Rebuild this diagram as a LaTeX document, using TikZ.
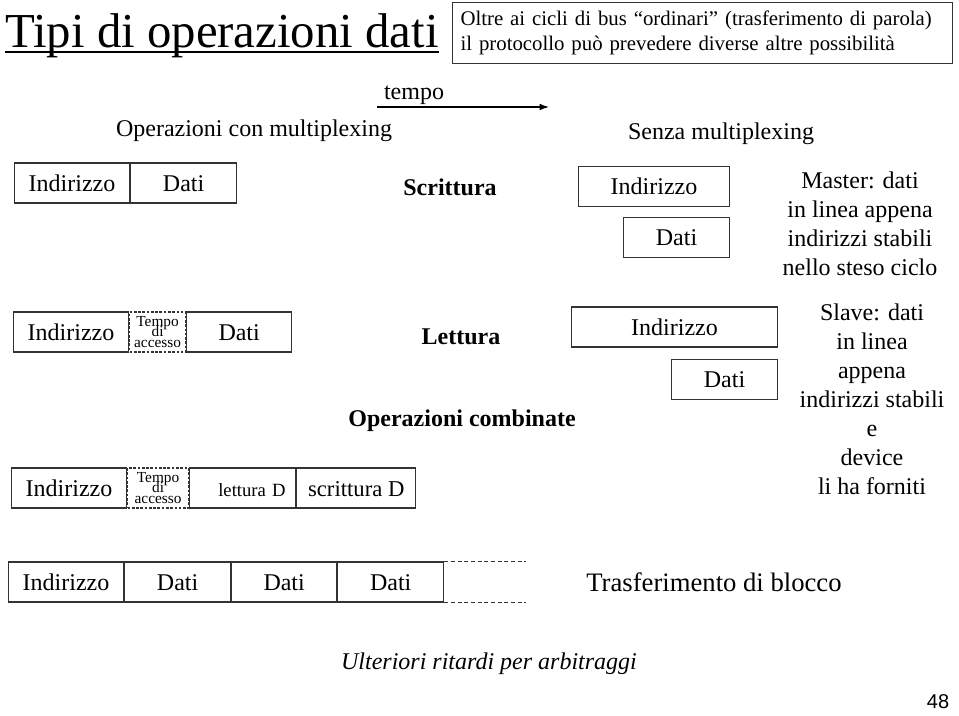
\documentclass[tikz,border=0pt]{standalone}
\usepackage{fontspec}
\setmainfont{Liberation Serif}
\newfontfamily\pagfont{Liberation Sans}
\usetikzlibrary{positioning,arrows.meta}
\tikzset{
campo/.style={
	  draw=black!80, line width=0.8pt, minimum height=30pt,
	    inner sep=0pt, text height=12pt, text depth=0pt,
	    font=\fontsize{18}{21}\selectfont},
attesa/.style={draw=black!80, line width=0.8pt, minimum height=30pt, inner sep=0pt,
	    dash pattern=on 2pt off 1.2pt, align=center,
	    font={\fontsize{11.5}{8}\selectfont\lineskiplimit=-20pt}},
tipo/.style={font=\fontsize{18}{21}\selectfont\bfseries},
testo/.style={font=\fontsize{18}{21.75}\selectfont, align=center}
}

\begin{document}
\begin{tikzpicture}[x=0.75pt, y=-0.75pt]
	\useasboundingbox (0,0) rectangle (959,715);
	\node[anchor=base west, inner sep=0pt, font=\fontsize{36.6}{42}\selectfont] (titolo) at (5,47) {Tipi di operazioni dati};
	\draw[line width=1.2pt] ([yshift=-3.75pt]titolo.base west) -- ([yshift=-3.75pt]titolo.base east);
	\node[draw=black!80, line width=0.8pt, anchor=north west, text width=363pt, inner xsep=6pt,
		minimum height=45.75pt, align=left, font=\fontsize{15.6}{18.5}\selectfont] (oltre) at (452,2)
		{Oltre ai cicli di bus “ordinari” (trasferimento di parola)\\il protocollo può prevedere diverse altre possibilità};
	% asse del tempo
	\node[font=\fontsize{18}{21}\selectfont] (tempo) at (414,95) {tempo};
	\coordinate (t0) at (377,107);
	\coordinate (t1) at (549,107);
	\draw[line width=0.9pt, -{Latex[length=7pt,width=5pt]}] (t0) -- (t1);
	\node[testo] (conMux) at (254,131) {Operazioni con multiplexing};
	\node[testo] (senzaMux) at (721,134) {Senza multiplexing};
	% scrittura
	\node[campo, minimum width=86.25pt, anchor=west] (sInd) at (14,183) {Indirizzo};
	\node[campo, minimum width=79.5pt, right=0pt of sInd] (sDati) {Dati};
	\node[tipo] (scrittura) at (450,187) {Scrittura};
	% lettura
	\node[campo, minimum width=86.25pt, anchor=west] (lInd) at (13,332) {Indirizzo};
	\node[attesa, minimum width=42pt, right=0pt of lInd] (lAcc) {Tempo\\di\\accesso};
	\node[campo, minimum width=78.75pt, right=0pt of lAcc] (lDati) {Dati};
	\node[tipo] (lettura) at (461,337) {Lettura};
	% operazioni combinate
	\node[tipo] (combinate) at (462,421) {Operazioni combinate};
	\node[campo, minimum width=86.25pt, anchor=west] (cInd) at (11,488) {Indirizzo};
	\node[attesa, minimum width=45.75pt, right=0pt of cInd] (cAcc) {Tempo\\di\\accesso};
	\node[campo, minimum width=79.5pt, text width=64.5pt, align=right,
		font=\fontsize{14}{16}\selectfont, right=0pt of cAcc] (cLett) {lettura D};
	\node[campo, minimum width=89.25pt, font=\fontsize{17}{20}\selectfont, right=0pt of cLett] (cScr) {scrittura D};
	% senza multiplexing
	\node[campo, minimum width=113.25pt, anchor=west] (mInd) at (578,186.5) {Indirizzo};
	\node[campo, minimum width=79.5pt, below=7.5pt of mInd.south east, anchor=north east] (mDati) {Dati};
	\node[testo] (master) at (860,223.5) {Master: dati\\in linea appena\\indirizzi stabili\\nello steso ciclo};
	\node[campo, minimum width=154.5pt, anchor=west] (vInd) at (571,327) {Indirizzo};
	\node[campo, minimum width=79.5pt, below=8.25pt of vInd.south east, anchor=north east] (vDati) {Dati};
	\node[testo] (slave) at (872,399.5) {Slave: dati\\in linea\\appena\\indirizzi stabili\\e\\device\\li ha forniti};
	% blocco
	\node[campo, minimum width=86.25pt, anchor=west] (bInd) at (8,582) {Indirizzo};
	\node[campo, minimum width=79.5pt, right=0pt of bInd] (bDati1) {Dati};
	\node[campo, minimum width=78.75pt, right=0pt of bDati1] (bDati2) {Dati};
	\node[campo, minimum width=79.5pt, right=0pt of bDati2] (bDati3) {Dati};
	\coordinate[right=61.5pt of bDati3.north east] (codaSu);
	\coordinate[right=61.5pt of bDati3.south east] (codaGiu);
	\draw[black!80, line width=0.8pt, dash pattern=on 3pt off 2pt] (bDati3.north east) -- (codaSu);
	\draw[black!80, line width=0.8pt, dash pattern=on 3pt off 2pt] (bDati3.south east) -- (codaGiu);
	\node[font=\fontsize{20}{24}\selectfont] (blocco) at (714,582) {Trasferimento di blocco};
	\node[font=\fontsize{18}{21}\selectfont\itshape] (ritardi) at (489,664) {Ulteriori ritardi per arbitraggi};
	\node[font=\pagfont\fontsize{15}{18}\selectfont] (pagina) at (938,702) {48};
\end{tikzpicture}
\end{document}
